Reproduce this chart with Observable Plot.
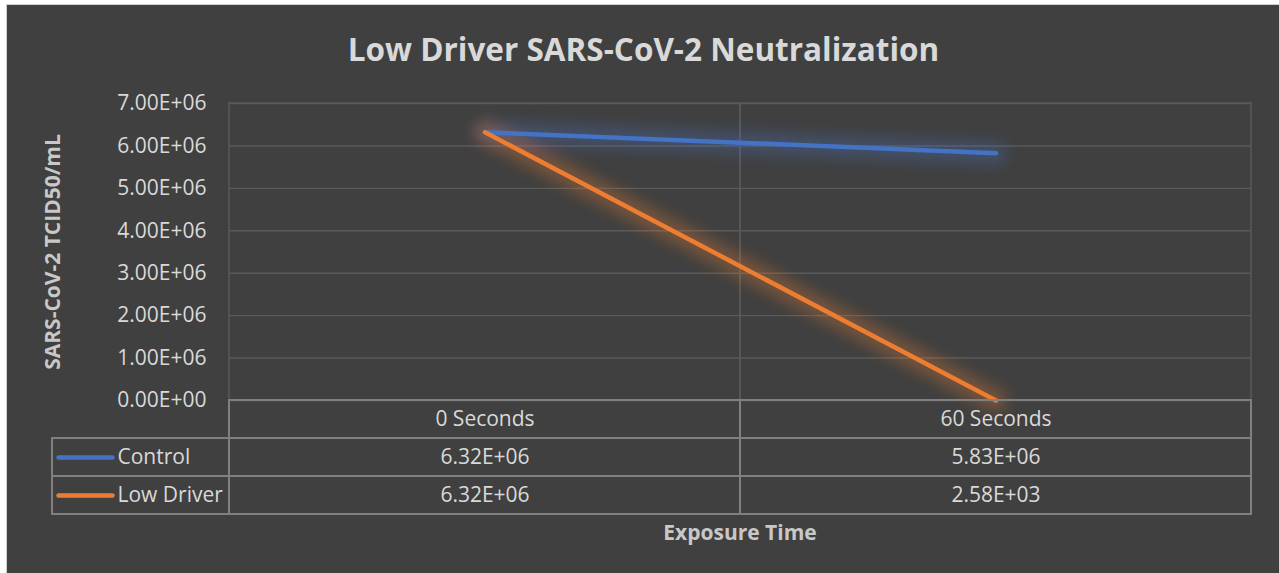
<!DOCTYPE html>
<html>
<head>
<meta charset="utf-8">
<script src="https://cdn.jsdelivr.net/npm/d3@7"></script>
<script src="https://cdn.jsdelivr.net/npm/@observablehq/plot@0.6"></script>
<style>
  html, body { margin: 0; padding: 0; background: #ffffff; }
  body { width: 1279px; height: 573px; overflow: hidden; position: relative; font-family: "Open Sans", sans-serif; }
  #frame { position: absolute; left: 6px; top: 4px; width: 1280px; height: 580px; background: #404040; border: 1px solid #d0d0d0; }
  #title { position: absolute; left: 4px; width: 1279px; top: 33px; text-align: center; font-size: 31.5px; line-height: 32px; font-weight: 700; color: #d9d9d9; white-space: nowrap; }
  #chart { position: absolute; left: 0; top: 90px; }
  #table { position: absolute; left: 0; top: 399px; }
  #xtitle { position: absolute; left: 740px; width: 200px; margin-left: -100px; top: 522px; text-align: center; font-size: 21px; line-height: 21px; font-weight: 700; color: #c8c8c8; white-space: nowrap; }
  svg { overflow: visible; }
</style>
</head>
<body>
<div id="frame"></div>
<div id="title"></div>
<div id="chart"></div>
<div id="table"></div>
<div id="xtitle"></div>
<script>
// ---- data ----
const chartTitle = "Low Driver SARS-CoV-2 Neutralization";
const yAxisTitle = "SARS-CoV-2 TCID50/mL";
const xAxisTitle = "Exposure Time";
const categories = ["0 Seconds", "60 Seconds"];
const seriesNames = ["Control", "Low Driver"];
const controlValues = [6.32e6, 5.83e6];
const lowDriverValues = [6.32e6, 2.58e3];
const seriesColors = ["#4472C4", "#ED7D31"];
const yTicks = [0, 1e6, 2e6, 3e6, 4e6, 5e6, 6e6, 7e6];

// ---- helpers ----
function sci(v) {
  const [m, e] = v.toExponential(2).split("e");
  const n = +e;
  return m + "E" + (n < 0 ? "-" : "+") + String(Math.abs(n)).padStart(2, "0");
}
const valuesBySeries = [controlValues, lowDriverValues];
const data = seriesNames.flatMap((s, i) =>
  categories.map((c, j) => ({ series: s, category: c, value: valuesBySeries[i][j] }))
);
const gridColor = "#5a5a5a";
const tableColor = "#808080";
const textColor = "#d9d9d9";

const W = 1279, ML = 229, MR = 28;

document.getElementById("title").textContent = chartTitle;
document.getElementById("xtitle").textContent = xAxisTitle;

// ---- main chart ----
const chart = Plot.plot({
  width: W,
  height: 312,
  marginLeft: ML,
  marginRight: MR,
  marginTop: 13,
  marginBottom: 2,
  style: { background: "transparent", color: textColor, fontFamily: "'Open Sans', sans-serif", fontSize: "21px" },
  x: { type: "band", domain: categories, padding: 0, axis: null },
  y: { domain: [0, 7e6] },
  color: { domain: seriesNames, range: seriesColors },
  marks: [
    Plot.ruleY(yTicks, { stroke: gridColor, strokeWidth: 1.4 }),
    Plot.cell(categories, { x: d => d, fill: "none", stroke: gridColor, strokeWidth: 1.4 }),
    Plot.axisY(yTicks, {
      tickSize: 0, tickPadding: 23, tickFormat: sci,
      label: yAxisTitle, labelAnchor: "center", labelOffset: 184, labelArrow: "none",
      fill: textColor
    }),
    // glow (blurred below), then crisp line
    Plot.line(data, { x: "category", y: "value", z: "series", stroke: "series", strokeWidth: 22, strokeOpacity: 0.3, strokeLinecap: "round" }),
    Plot.line(data, { x: "category", y: "value", z: "series", stroke: "series", strokeWidth: 4.5, strokeLinecap: "round" })
  ]
});
document.getElementById("chart").appendChild(chart);

const svg = d3.select(chart);
const defs = svg.insert("defs", ":first-child");
defs.append("filter").attr("id", "glow").attr("filterUnits", "userSpaceOnUse")
  .attr("x", -200).attr("y", -50).attr("width", W + 400).attr("height", 420)
  .append("feGaussianBlur").attr("stdDeviation", 7);
svg.selectAll('g[aria-label="line"]').filter((d, i) => i === 0).attr("filter", "url(#glow)");
svg.selectAll('g[aria-label="y-axis label"]').attr("font-weight", "bold").attr("fill", "#c8c8c8");

// ---- data table ----
const lineSymbol = { draw(ctx) { ctx.moveTo(-27, 0); ctx.lineTo(27, 0); } };
const headerRow = " ";
const rowNames = [headerRow, ...seriesNames];
const table = Plot.plot({
  width: W,
  height: 117,
  marginLeft: 52,
  marginRight: MR,
  marginTop: 1,
  marginBottom: 2,
  style: { background: "transparent", color: textColor, fontFamily: "'Open Sans', sans-serif", fontSize: "21px" },
  x: { type: "band", domain: categories, range: [ML, W - MR], padding: 0, axis: null },
  y: { type: "band", domain: rowNames, padding: 0, axis: null },
  color: { domain: seriesNames, range: seriesColors },
  marks: [
    Plot.cell(seriesNames, { y: d => d, fill: "none", stroke: tableColor, strokeWidth: 2 }),
    Plot.cell(rowNames.flatMap(r => categories.map(c => ({ r, c }))),
      { x: "c", y: "r", fill: "none", stroke: tableColor, strokeWidth: 2 }),
    Plot.text(categories, { x: d => d, y: () => headerRow, text: d => d, fill: textColor }),
    Plot.text(data, { x: "category", y: "series", text: d => sci(d.value), fill: textColor }),
    Plot.dot(seriesNames, { y: d => d, frameAnchor: "left", dx: 33, symbol: lineSymbol, r: 5, fill: "none", stroke: d => d, strokeWidth: 4.5, strokeLinecap: "round" }),
    Plot.text(seriesNames, { y: d => d, frameAnchor: "left", dx: 65, textAnchor: "start", text: d => d, fill: textColor })
  ]
});
document.getElementById("table").appendChild(table);
</script>
</body>
</html>
